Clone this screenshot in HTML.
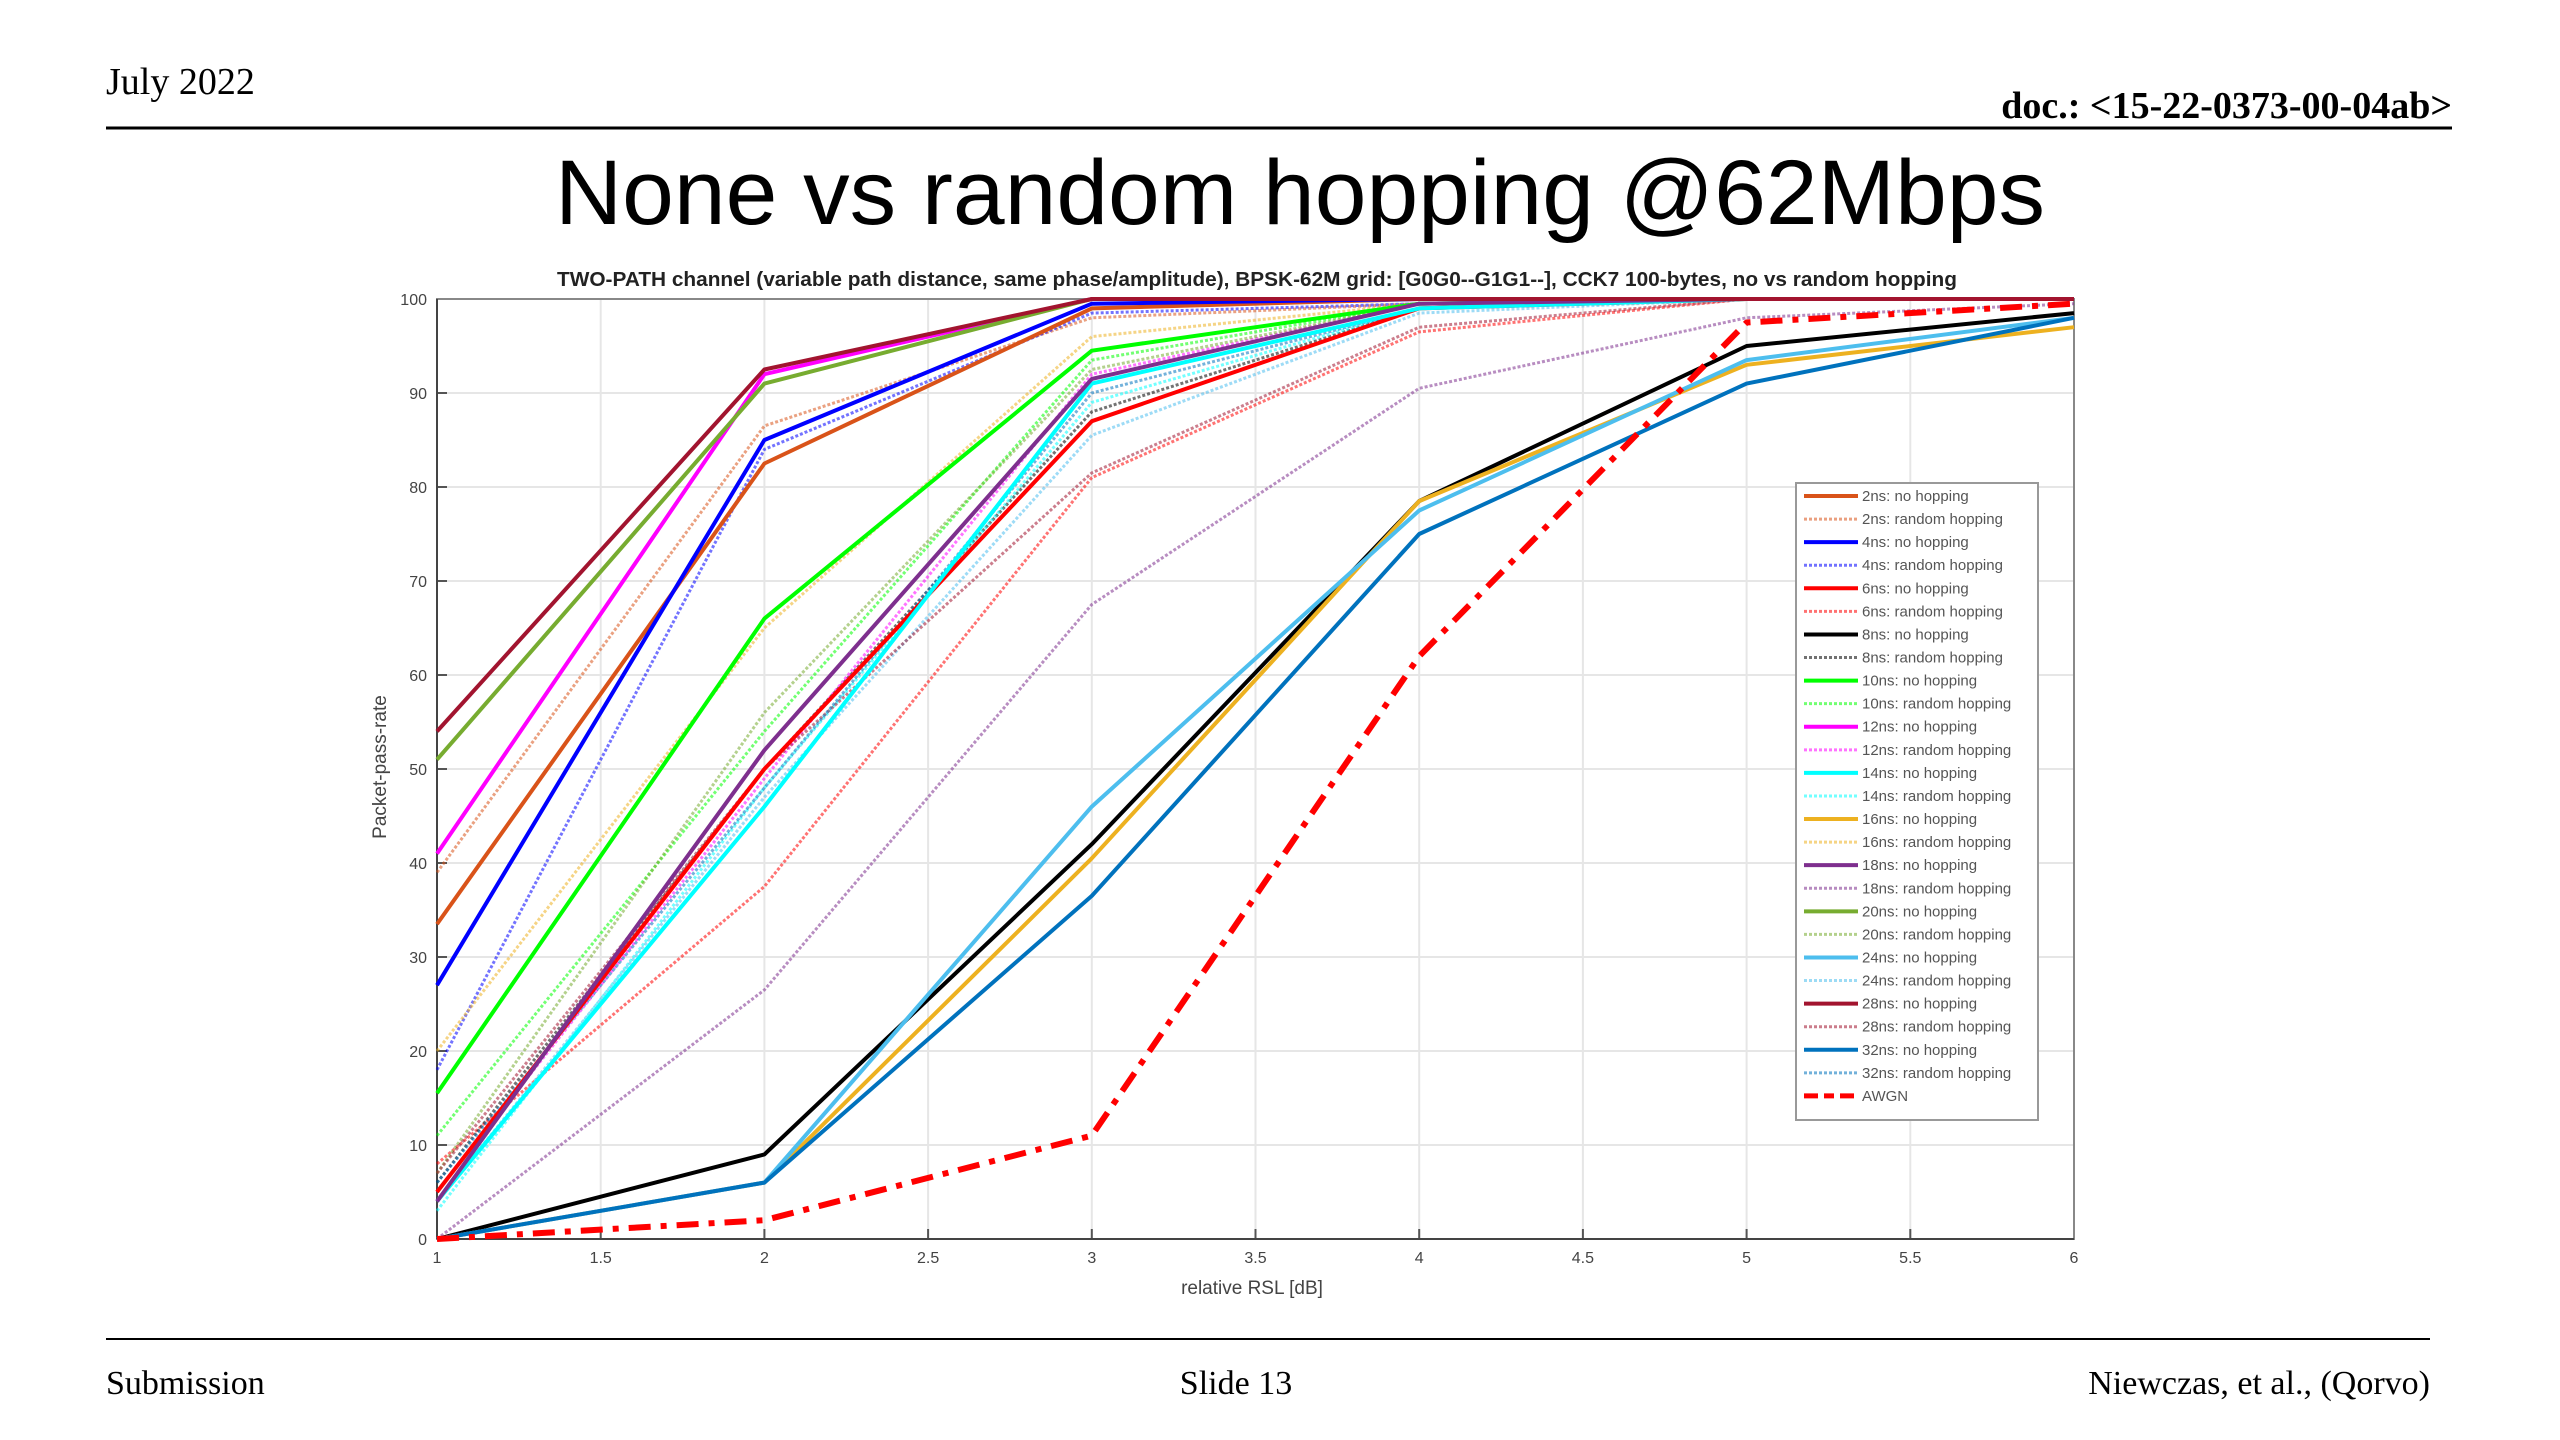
<!DOCTYPE html>
<html><head><meta charset="utf-8"><style>
html,body{margin:0;padding:0;background:#fff;}
svg{display:block;}
</style></head><body>
<svg id="page" width="2560" height="1440" viewBox="0 0 2560 1440" xmlns="http://www.w3.org/2000/svg">
<text x="106" y="94" font-family="Liberation Serif, serif" font-size="38">July 2022</text>
<text x="2452" y="118" text-anchor="end" font-family="Liberation Serif, serif" font-size="38" font-weight="bold">doc.: &lt;15-22-0373-00-04ab&gt;</text>
<line x1="106" y1="128" x2="2452" y2="128" stroke="#000" stroke-width="3"/>
<text x="1300" y="224" text-anchor="middle" font-family="Liberation Sans, sans-serif" font-size="92" textLength="1490" lengthAdjust="spacingAndGlyphs">None vs random hopping @62Mbps</text>
<text x="1257" y="286" text-anchor="middle" font-family="Liberation Sans, sans-serif" font-size="20" font-weight="bold" fill="#222" textLength="1400" lengthAdjust="spacingAndGlyphs">TWO-PATH channel (variable path distance, same phase/amplitude), BPSK-62M grid: [G0G0--G1G1--], CCK7 100-bytes, no vs random hopping</text>
<g id="chart"></g>
<line x1="106" y1="1339" x2="2430" y2="1339" stroke="#000" stroke-width="2"/>
<text x="106" y="1394" font-family="Liberation Serif, serif" font-size="34">Submission</text>
<text x="1236" y="1394" text-anchor="middle" font-family="Liberation Serif, serif" font-size="34">Slide 13</text>
<text x="2430" y="1394" text-anchor="end" font-family="Liberation Serif, serif" font-size="34">Niewczas, et al., (Qorvo)</text>
</svg>
<script>
const xValues = [1, 2, 3, 4, 5, 6];
const xTicks = [1, 1.5, 2, 2.5, 3, 3.5, 4, 4.5, 5, 5.5, 6];
const xTickLabels = ["1","1.5","2","2.5","3","3.5","4","4.5","5","5.5","6"];
const yTicks = [0,10,20,30,40,50,60,70,80,90,100];
const yTickLabels = ["0","10","20","30","40","50","60","70","80","90","100"];
const seriesNames = ["2ns: no hopping","2ns: random hopping","4ns: no hopping","4ns: random hopping","6ns: no hopping","6ns: random hopping","8ns: no hopping","8ns: random hopping","10ns: no hopping","10ns: random hopping","12ns: no hopping","12ns: random hopping","14ns: no hopping","14ns: random hopping","16ns: no hopping","16ns: random hopping","18ns: no hopping","18ns: random hopping","20ns: no hopping","20ns: random hopping","24ns: no hopping","24ns: random hopping","28ns: no hopping","28ns: random hopping","32ns: no hopping","32ns: random hopping","AWGN"];
const s2no   = [33.5, 82.5, 99, 100, 100, 100];
const s2rnd  = [39, 86.5, 98, 99.5, 100, 100];
const s4no   = [27, 85, 99.5, 100, 100, 100];
const s4rnd  = [18, 84, 98.5, 99.5, 100, 100];
const s6no   = [5, 50, 87, 99, 100, 100];
const s6rnd  = [8, 37.5, 81, 96.5, 100, 100];
const s8no   = [0, 9, 42, 78.5, 95, 98.5];
const s8rnd  = [6, 50, 88, 99, 100, 100];
const s10no  = [15.5, 66, 94.5, 99.5, 100, 100];
const s10rnd = [11, 54, 93.5, 99.5, 100, 100];
const s12no  = [41, 92, 100, 100, 100, 100];
const s12rnd = [5, 49, 92, 99.5, 100, 100];
const s14no  = [4, 46, 91, 99, 100, 100];
const s14rnd = [3, 48, 89, 99, 100, 100];
const s16no  = [0, 6, 40.5, 78.5, 93, 97];
const s16rnd = [20, 65, 96, 99.5, 100, 100];
const s18no  = [4, 52, 91.5, 99.5, 100, 100];
const s18rnd = [0, 26.5, 67.5, 90.5, 98, 99.5];
const s20no  = [51, 91, 100, 100, 100, 100];
const s20rnd = [7, 56, 92.5, 99.5, 100, 100];
const s24no  = [0, 6, 46, 77.5, 93.5, 98];
const s24rnd = [4, 47, 85.5, 98.5, 100, 100];
const s28no  = [54, 92.5, 100, 100, 100, 100];
const s28rnd = [7, 50, 81.5, 97, 100, 100];
const s32no  = [0, 6, 36.5, 75, 91, 98];
const s32rnd = [6, 48, 90, 99, 100, 100];
const awgn   = [0, 2, 11, 62, 97.5, 99.5];
const seriesValues = [s2no,s2rnd,s4no,s4rnd,s6no,s6rnd,s8no,s8rnd,s10no,s10rnd,s12no,s12rnd,s14no,s14rnd,s16no,s16rnd,s18no,s18rnd,s20no,s20rnd,s24no,s24rnd,s28no,s28rnd,s32no,s32rnd,awgn];

const colors = ["#D95319","#D95319","#0000FF","#0000FF","#FF0000","#FF0000","#000000","#000000","#00FF00","#00FF00","#FF00FF","#FF00FF","#00FFFF","#00FFFF","#EDB120","#EDB120","#7E2F8E","#7E2F8E","#77AC30","#77AC30","#4DBEEE","#4DBEEE","#A2142F","#A2142F","#0072BD","#0072BD","#FF0000"];
const NS = "http://www.w3.org/2000/svg";
const L = 437, R = 2074, T = 299, B = 1239;
function xs(v){ return L + (v - 1) / 5 * (R - L); }
function ys(v){ return B - v / 100 * (B - T); }
const g = document.getElementById('chart');
function mk(tag, attrs, parent){ const e = document.createElementNS(NS, tag); for (const k in attrs) e.setAttribute(k, attrs[k]); (parent||g).appendChild(e); return e; }

mk('rect', {x:L, y:T, width:R-L, height:B-T, fill:'#fff', stroke:'none'});
xTicks.forEach((t,i)=>{
  const ln = mk('line', {x1:xs(t), x2:xs(t), y1:T, y2:B, stroke:'#e6e6e6', 'stroke-width':2});
  
  
  const tk = mk('line', {x1:xs(t), x2:xs(t), y1:B, y2:B-10, stroke:'#555', 'stroke-width':2});
  
  
  const tx = mk('text', {x:xs(t), y:B+24, 'text-anchor':'middle', 'font-family':'Liberation Sans, sans-serif', 'font-size':16, fill:'#444'});
  tx.textContent = xTickLabels[i];
  
  
});
yTicks.forEach((t,i)=>{
  const ln = mk('line', {x1:L, x2:R, y1:ys(t), y2:ys(t), stroke:'#e6e6e6', 'stroke-width':2});
  
  
  const tk = mk('line', {x1:L, x2:L+10, y1:ys(t), y2:ys(t), stroke:'#555', 'stroke-width':2});
  
  
  const tx = mk('text', {x:L-10, y:ys(t)+6, 'text-anchor':'end', 'font-family':'Liberation Sans, sans-serif', 'font-size':16, fill:'#444'});
  tx.textContent = yTickLabels[i];
  
  
});
const frame = mk('rect', {x:L, y:T, width:R-L, height:B-T, fill:'none', stroke:'#888', 'stroke-width':2});


const axB = mk('line', {x1:L, x2:R, y1:B, y2:B, stroke:'#444', 'stroke-width':2});


const axL = mk('line', {x1:L, x2:L, y1:T, y2:B, stroke:'#444', 'stroke-width':2});



const xt = mk('text', {x:1252, y:1294, 'text-anchor':'middle', 'font-family':'Liberation Sans, sans-serif', 'font-size':19, fill:'#444'});
xt.textContent = 'relative RSL [dB]';


const yt = mk('text', {x:0, y:0, transform:'translate(386,767) rotate(-90)', 'text-anchor':'middle', 'font-family':'Liberation Sans, sans-serif', 'font-size':19, fill:'#444'});
yt.textContent = 'Packet-pass-rate';



function styleFor(i){
  if (i === 26) return {stroke:colors[i], 'stroke-width':6, 'stroke-dasharray':'22 10 6 10', opacity:1};
  if (i % 2 === 1) return {stroke:colors[i], 'stroke-width':3, 'stroke-dasharray':'3 2', opacity:0.55};
  return {stroke:colors[i], 'stroke-width':4, opacity:1};
}
const order = [];
for (let i = 0; i < seriesValues.length; i++) if (i % 2 === 1 && i !== 26) order.push(i);
for (let i = 0; i < seriesValues.length; i++) if (i % 2 === 0 || i === 26) order.push(i);
order.forEach(i=>{
  const pts = seriesValues[i].map((v,j)=> xs(xValues[j]).toFixed(1) + ',' + ys(v).toFixed(1)).join(' ');
  const st = styleFor(i);
  const pl = mk('polyline', Object.assign({points:pts, fill:'none', 'stroke-linejoin':'round'}, st));
  
  
});

// legend
const lx = 1796, ly = 483, lw = 242, lh = 637;
const lg = mk('g', {});


mk('rect', {x:lx, y:ly, width:lw, height:lh, fill:'#fff', stroke:'#999', 'stroke-width':2}, lg);
const step = (lh - 14) / seriesNames.length;
seriesNames.forEach((n,i)=>{
  const yy = ly + 13 + step * i;
  const st = styleFor(i);
  const seg = mk('line', Object.assign({x1:lx+8, x2:lx+62, y1:yy, y2:yy}, st, i===26?{'stroke-dasharray':'14 6 10 6','stroke-width':5}:{}), lg);
  
  
  const tx = mk('text', {x:lx+66, y:yy+5, 'font-family':'Liberation Sans, sans-serif', 'font-size':15, fill:'#555'}, lg);
  tx.textContent = n;
  
  
});
</script>
</body></html>
